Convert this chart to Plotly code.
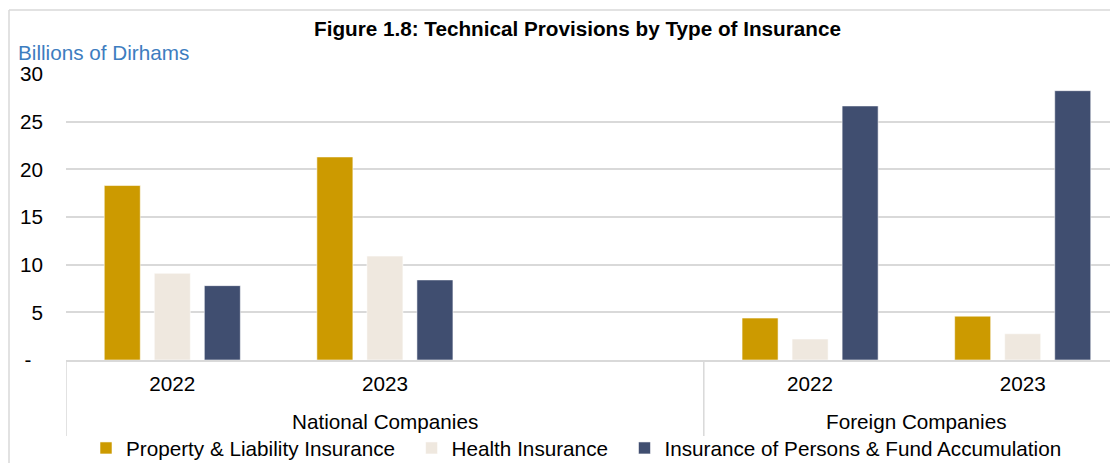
import plotly.graph_objects as go

# ---------------- data ----------------
slot_years = ["2022", "2023", "", "2022", "2023"]          # "" = empty spacer slot in National group
slot_groups = ["National Companies"] * 3 + ["Foreign Companies"] * 2
series_names = ["Property & Liability Insurance", "Health Insurance",
                "Insurance of Persons & Fund Accumulation"]
property_liability = [18.3, 21.3, 4.4, 4.6]
health = [9.1, 10.9, 2.2, 2.75]
persons_fund = [7.8, 8.4, 26.65, 28.25]
y_ticks = [0, 5, 10, 15, 20, 25, 30]
y_ticktext = ["-\u00a0\u00a0", "5", "10", "15", "20", "25", "30"]

title = "Figure 1.8: Technical Provisions by Type of Insurance"
unit_label = "Billions of Dirhams"

# ---------------- styles ----------------
colors = ["#CC9A00", "#EFE8DF", "#404E70"]
FONT = "Liberation Sans, Arial, sans-serif"
FS = 20.7
GRID = "#D9D9D9"
OFF = 8  # page body margin

W, H = 1110, 455
L, R, T, B = 58, 0, 66, 103
PW, PH = W - L - R, H - T - B


def px(x):  # page x -> paper fraction
    return (x - OFF - L) / PW


def py(y):  # page y -> paper fraction
    return (H - B - (y - OFF)) / PH


x_idx = [i for i, s in enumerate(slot_years) if s]
x_text = [s for s in slot_years if s]
slot_px = 212.6

fig = go.Figure()
for name, vals, col in zip(series_names, [property_liability, health, persons_fund], colors):
    fig.add_bar(x=x_idx, y=vals, name=name + "\u00a0\u00a0",
                marker=dict(color=col, line=dict(color="rgba(255,255,255,0.55)", width=1)))

# group labels & dividers
shapes = []
annotations = []
seen = []
for g in slot_groups:
    if g not in seen:
        seen.append(g)
for g in seen:
    idx = [i for i, gg in enumerate(slot_groups) if gg == g]
    center = (min(idx) + max(idx)) / 2
    annotations.append(dict(text=g, x=center, xref="x", y=py(421), yref="paper",
                            showarrow=False, font=dict(size=FS, color="#000000", family=FONT),
                            xanchor="center", yanchor="middle"))
    shapes.append(dict(type="line", xref="x", yref="paper", x0=min(idx) - 0.5, x1=min(idx) - 0.5,
                       y0=0, y1=py(436), line=dict(color=GRID, width=1.5), layer="above"))

annotations.append(dict(text="<b>" + title + "</b>", x=px(577), xref="paper", y=py(28), yref="paper",
                        showarrow=False, font=dict(size=FS, color="#000000", family=FONT),
                        xanchor="center", yanchor="middle"))
annotations.append(dict(text=unit_label, x=px(16), xref="paper", y=py(52), yref="paper",
                        showarrow=False, font=dict(size=FS, color="#3D7DC0", family=FONT),
                        xanchor="left", yanchor="middle"))

# outer chart border (top and left edges visible)
shapes.append(dict(type="line", xref="paper", yref="paper", x0=px(9), x1=px(1130), y0=py(10), y1=py(10),
                   line=dict(color=GRID, width=1.5)))
shapes.append(dict(type="line", xref="paper", yref="paper", x0=px(9), x1=px(9), y0=py(10), y1=py(480),
                   line=dict(color=GRID, width=1.5)))

fig.update_layout(
    width=W, height=H,
    margin=dict(l=L, r=R, t=T, b=B, pad=0, autoexpand=False),
    paper_bgcolor="white", plot_bgcolor="white",
    font=dict(family=FONT, size=FS, color="#000000"),
    barmode="group", bargap=0.294, bargroupgap=0.28,
    showlegend=True,
    legend=dict(orientation="h", xref="container", x=(78) / W, xanchor="left",
                yref="container", y=1 - (449 - OFF - 21) / H, yanchor="top",
                font=dict(size=FS, family=FONT), bgcolor="rgba(0,0,0,0)", traceorder="normal"),
    xaxis=dict(range=[-0.5, -0.5 + PW / slot_px], tickmode="array", tickvals=x_idx,
               ticktext=x_text, showgrid=False, zeroline=False, showline=True,
               linecolor=GRID, linewidth=2, ticks="", ticklabelstandoff=4,
               tickfont=dict(size=FS, family=FONT)),
    yaxis=dict(range=[0, 30], tickmode="array", tickvals=y_ticks, ticktext=y_ticktext,
               showgrid=True, gridcolor=GRID, gridwidth=1.5, zeroline=False, showline=False,
               ticks="", ticklabelstandoff=22, tickfont=dict(size=FS, family=FONT)),
    shapes=shapes, annotations=annotations,
)

fig.write_html("out.html")
